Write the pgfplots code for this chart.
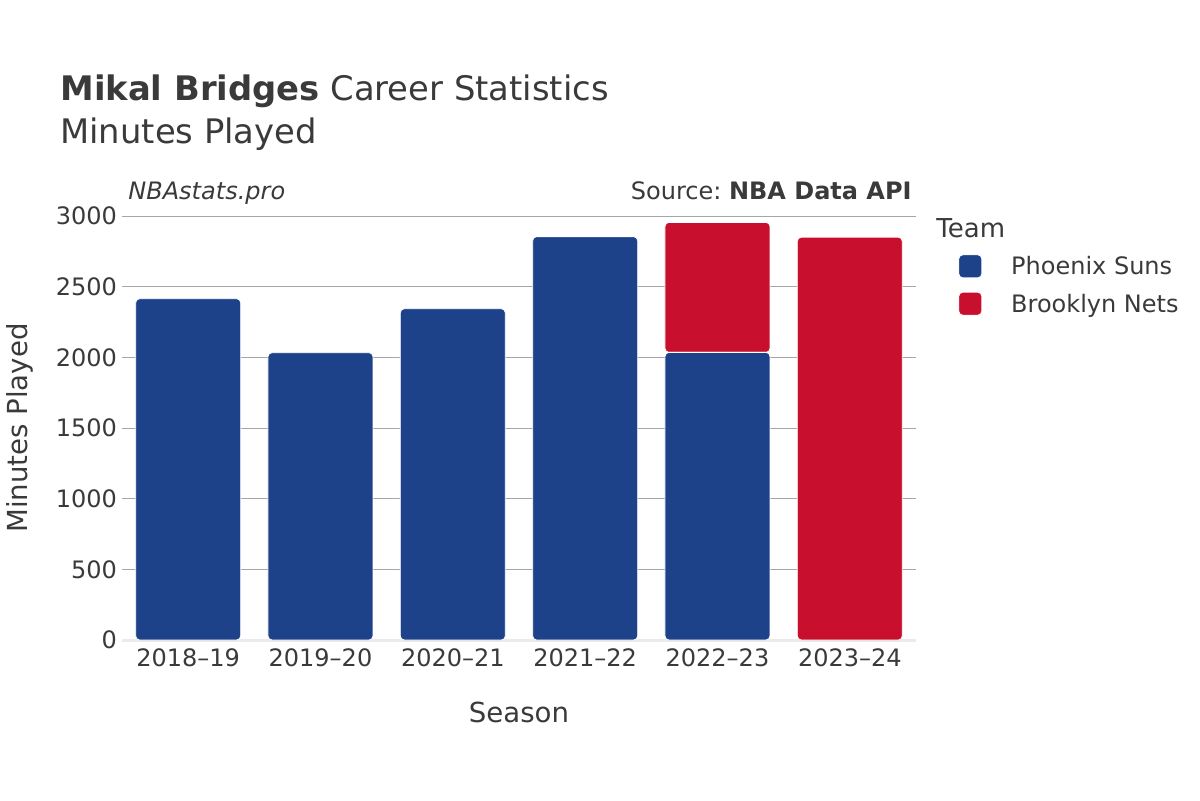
\documentclass[border=0pt]{standalone}
\usepackage{fontspec}
\setmainfont{DejaVu Sans}
\usepackage{pgfplots}
\pgfplotsset{compat=1.18}
\definecolor{suns}{HTML}{1D428A}
\definecolor{nets}{HTML}{C8102E}
\definecolor{txt}{HTML}{3A3A3A}
\definecolor{gridc}{HTML}{A6A6A6}
\definecolor{zeroc}{HTML}{EBEBEB}

\begin{document}
\begin{tikzpicture}[every node/.style={text=txt}]
\begin{axis}[
  scale only axis, width=397pt, height=212pt,
  ybar stacked, bar width=52.5pt,
  xmin=-0.5, xmax=5.5, ymin=0, ymax=3000,
  xtick={0,1,2,3,4,5},
  xticklabels={2018--19,2019--20,2020--21,2021--22,2022--23,2023--24},
  ytick={0,500,...,3000},
  /pgf/number format/assume math mode=true,
  /pgf/number format/1000 sep={},
  ticklabel style={font=\fontsize{12}{14}\selectfont, text=txt},
  xticklabel style={yshift=-1pt},
  yticklabel style={xshift=1pt},
  major tick length=0pt,
  axis line style={draw=none},
  ymajorgrids, grid style={draw=gridc, line width=0.5pt},
  xlabel={Season}, ylabel={Minutes Played},
  label style={font=\fontsize{13.8}{16}\selectfont, text=txt},
  xlabel style={at={(axis description cs:0.5,-0.17)}, anchor=center},
  ylabel style={at={(axis description cs:-0.129,0.5)}, anchor=center},
  legend style={at={(axis description cs:1,1)}, anchor=north west,
    xshift=18pt, yshift=-17pt, draw=none, fill=none,
    font=\fontsize{12}{14}\selectfont, text=txt,
    nodes={inner sep=0pt, text height=8.5pt, text depth=2.5pt},
    row sep=6pt},
  /tikz/every odd column/.append style={column sep=14.5pt},
  legend cell align=left,
  legend image code/.code={\fill[rounded corners=2pt,#1] (0pt,-4.5pt) rectangle (11.5pt,7pt);},
  clip=false,
]
\addplot[fill=suns, draw=white, line width=0.4pt, rounded corners=2pt]
  coordinates {(0,2415) (1,2033) (2,2344) (3,2854) (4,2035) (5,0)};
\addlegendentry{Phoenix Suns}
\addplot[fill=nets, draw=white, line width=0.4pt, rounded corners=2pt]
  coordinates {(0,0) (1,0) (2,0) (3,0) (4,920) (5,2850)};
\addlegendentry{Brooklyn Nets}
\draw[zeroc, line width=1.5pt] (rel axis cs:0,0) -- (rel axis cs:1,0);
\node[anchor=base west, inner sep=0pt, font=\fontsize{16.9}{20}\selectfont]
  at ([xshift=-31pt,yshift=58pt]rel axis cs:0,1) {\textbf{Mikal Bridges} Career Statistics};
\node[anchor=base west, inner sep=0pt, font=\fontsize{16.9}{20}\selectfont]
  at ([xshift=-31pt,yshift=36.5pt]rel axis cs:0,1) {Minutes Played};
\node[anchor=base west, inner sep=0pt, font=\fontsize{12}{14}\selectfont\itshape]
  at ([xshift=3pt,yshift=8.5pt]rel axis cs:0,1) {NBAstats.pro};
\node[anchor=base east, inner sep=0pt, font=\fontsize{12}{14}\selectfont]
  at ([xshift=-2pt,yshift=8.5pt]rel axis cs:1,1) {Source:~\textbf{NBA Data API}};
\node[anchor=base west, inner sep=0pt, font=\fontsize{13}{15}\selectfont]
  at ([xshift=10pt,yshift=-10.5pt]rel axis cs:1,1) {Team};
\end{axis}
\pgfresetboundingbox
\path[use as bounding box] (-61pt,-80pt) rectangle (539pt,320pt);
\end{tikzpicture}
\end{document}
